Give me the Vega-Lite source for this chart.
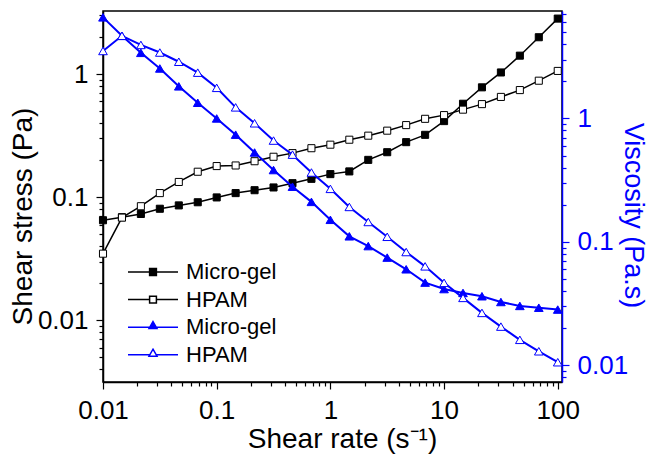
{
  "$schema": "https://vega.github.io/schema/vega-lite/v6.json",
  "width": 459,
  "height": 371,
  "autosize": "none",
  "padding": {"left": 103, "top": 11, "right": 86, "bottom": 72},
  "background": "white",
  "config": {
    "font": "Liberation Sans",
    "view": {"stroke": "black", "strokeWidth": 1.5},
    "axis": {
      "grid": false,
      "labelFont": "Liberation Sans",
      "labelFontSize": 26,
      "titleFont": "Liberation Sans",
      "titleFontSize": 28,
      "titleFontWeight": "normal",
      "labelPadding": 8,
      "domainWidth": 1.5,
      "tickWidth": 1.2,
      "labelOverlap": false,
      "labelFlush": false,
      "labelBound": false
    },
    "legend": {
      "orient": "none",
      "legendX": 39,
      "legendY": 250,
      "padding": 0,
      "labelFont": "Liberation Sans",
      "labelFontSize": 22,
      "labelColor": "black",
      "labelOffset": 22,
      "symbolSize": 64,
      "symbolStrokeWidth": 1.5,
      "rowPadding": 5.6
    }
  },
  "data": {
    "values": [
      {"rate": 0.01, "mg_s": 0.065, "hp_s": 0.0348, "mg_v": 6.59, "hp_v": 3.52},
      {"rate": 0.01468, "mg_s": 0.0688, "hp_s": 0.0683, "mg_v": 4.67, "hp_v": 4.67},
      {"rate": 0.02154, "mg_s": 0.0731, "hp_s": 0.0845, "mg_v": 3.40, "hp_v": 3.94},
      {"rate": 0.03162, "mg_s": 0.0806, "hp_s": 0.108, "mg_v": 2.54, "hp_v": 3.42},
      {"rate": 0.04642, "mg_s": 0.0858, "hp_s": 0.133, "mg_v": 1.82, "hp_v": 2.88},
      {"rate": 0.06813, "mg_s": 0.091, "hp_s": 0.161, "mg_v": 1.34, "hp_v": 2.35},
      {"rate": 0.1, "mg_s": 0.0996, "hp_s": 0.179, "mg_v": 1.0, "hp_v": 1.77},
      {"rate": 0.1468, "mg_s": 0.108, "hp_s": 0.181, "mg_v": 0.739, "hp_v": 1.23},
      {"rate": 0.2154, "mg_s": 0.114, "hp_s": 0.196, "mg_v": 0.53, "hp_v": 0.914},
      {"rate": 0.3162, "mg_s": 0.12, "hp_s": 0.213, "mg_v": 0.382, "hp_v": 0.662},
      {"rate": 0.4642, "mg_s": 0.13, "hp_s": 0.228, "mg_v": 0.28, "hp_v": 0.509},
      {"rate": 0.6813, "mg_s": 0.141, "hp_s": 0.25, "mg_v": 0.211, "hp_v": 0.365},
      {"rate": 1, "mg_s": 0.154, "hp_s": 0.267, "mg_v": 0.151, "hp_v": 0.269},
      {"rate": 1.468, "mg_s": 0.162, "hp_s": 0.293, "mg_v": 0.111, "hp_v": 0.192},
      {"rate": 2.154, "mg_s": 0.201, "hp_s": 0.316, "mg_v": 0.0925, "hp_v": 0.145},
      {"rate": 3.162, "mg_s": 0.232, "hp_s": 0.347, "mg_v": 0.0746, "hp_v": 0.11},
      {"rate": 4.642, "mg_s": 0.28, "hp_s": 0.385, "mg_v": 0.06, "hp_v": 0.0828},
      {"rate": 6.813, "mg_s": 0.321, "hp_s": 0.433, "mg_v": 0.0468, "hp_v": 0.0634},
      {"rate": 10, "mg_s": 0.415, "hp_s": 0.464, "mg_v": 0.0415, "hp_v": 0.0466},
      {"rate": 14.68, "mg_s": 0.574, "hp_s": 0.514, "mg_v": 0.0386, "hp_v": 0.0352},
      {"rate": 21.54, "mg_s": 0.78, "hp_s": 0.57, "mg_v": 0.0363, "hp_v": 0.0266},
      {"rate": 31.62, "mg_s": 1.03, "hp_s": 0.652, "mg_v": 0.0326, "hp_v": 0.0206},
      {"rate": 46.42, "mg_s": 1.41, "hp_s": 0.741, "mg_v": 0.0303, "hp_v": 0.0161},
      {"rate": 68.13, "mg_s": 1.99, "hp_s": 0.883, "mg_v": 0.0293, "hp_v": 0.013},
      {"rate": 100, "mg_s": 2.82, "hp_s": 1.06, "mg_v": 0.0283, "hp_v": 0.0106}
    ]
  },
  "transform": [{"fold": ["mg_s", "hp_s", "mg_v", "hp_v"], "as": ["series", "value"]}],
  "encoding": {
    "x": {
      "field": "rate",
      "type": "quantitative",
      "scale": {"type": "log", "domain": [0.01, 109]},
      "axis": {
        "values": [0.01,0.02,0.03,0.04,0.05,0.06,0.07,0.08,0.09,0.1,0.2,0.3,0.4,0.5,0.6,0.7,0.8,0.9,1,2,3,4,5,6,7,8,9,10,20,30,40,50,60,70,80,90,100],
        "format": "~g",
        "labelExpr": "abs(log(datum.value)/LN10 - round(log(datum.value)/LN10)) < 0.001 ? datum.label : ''",
        "tickSize": {"condition": {"test": "abs(log(datum.value)/LN10 - round(log(datum.value)/LN10)) < 0.001", "value": 7}, "value": 4},
        "title": "Shear rate (s⁻¹)",
        "titleX": 239,
        "titleY": 65,
        "titleBaseline": "alphabetic",
        "domainColor": "black",
        "tickColor": "black",
        "labelColor": "black",
        "titleColor": "black"
      }
    }
  },
  "layer": [
    {
      "transform": [{"filter": "datum.series == 'mg_s' || datum.series == 'hp_s'"}],
      "encoding": {
        "y": {
          "field": "value",
          "type": "quantitative",
          "scale": {"type": "log", "domain": [0.00316, 3.25]},
          "axis": {
            "orient": "left",
            "values": [0.004,0.005,0.006,0.007,0.008,0.009,0.01,0.02,0.03,0.04,0.05,0.06,0.07,0.08,0.09,0.1,0.2,0.3,0.4,0.5,0.6,0.7,0.8,0.9,1,2,3],
            "format": "~g",
            "labelExpr": "abs(log(datum.value)/LN10 - round(log(datum.value)/LN10)) < 0.001 ? datum.label : ''",
            "tickSize": {"condition": {"test": "abs(log(datum.value)/LN10 - round(log(datum.value)/LN10)) < 0.001", "value": 7}, "value": 4},
            "title": "Shear stress (Pa)",
            "titleX": -72,
            "titleY": 205,
            "titleBaseline": "alphabetic",
            "domainColor": "black",
            "tickColor": "black",
            "labelColor": "black",
            "titleColor": "black"
          }
        }
      },
      "layer": [
        {
          "mark": {"type": "line", "color": "black", "strokeWidth": 1.5},
          "encoding": {"detail": {"field": "series"}}
        },
        {
          "mark": {"type": "point", "shape": "square", "size": 50, "strokeWidth": 1, "opacity": 1},
          "encoding": {
            "fill": {
              "field": "series", "type": "nominal",
              "scale": {"domain": ["mg_s", "hp_s", "mg_v", "hp_v"], "range": ["black", "white", "#0000ff", "white"]},
              "legend": {"title": null, "labelExpr": "(datum.value == 'mg_s' || datum.value == 'mg_v') ? 'Micro-gel' : 'HPAM'"}
            },
            "stroke": {
              "field": "series", "type": "nominal",
              "scale": {"domain": ["mg_s", "hp_s", "mg_v", "hp_v"], "range": ["black", "black", "#0000ff", "#0000ff"]},
              "legend": {"title": null, "labelExpr": "(datum.value == 'mg_s' || datum.value == 'mg_v') ? 'Micro-gel' : 'HPAM'"}
            }
          }
        },
        {
          "transform": [{"filter": "false"}],
          "mark": {"type": "point", "size": 64, "strokeWidth": 1.5, "opacity": 1},
          "encoding": {
            "shape": {
              "field": "series", "type": "nominal",
              "scale": {"domain": ["mg_s", "hp_s", "mg_v", "hp_v"], "range": [
                "M-6.25,0H-0.85M0.85,0H6.25M-0.85,-0.85H0.85V0.85H-0.85Z",
                "M-6.25,0H-0.85M0.85,0H6.25M-0.85,-0.85H0.85V0.85H-0.85Z",
                "M-6.25,0H-0.8M0.8,0H6.25M0,-1.4L1,0.35H-1Z",
                "M-6.25,0H-0.8M0.8,0H6.25M0,-1.4L1,0.35H-1Z"]},
              "legend": {"title": null, "labelExpr": "(datum.value == 'mg_s' || datum.value == 'mg_v') ? 'Micro-gel' : 'HPAM'"}
            },
            "fill": {
              "field": "series", "type": "nominal",
              "scale": {"domain": ["mg_s", "hp_s", "mg_v", "hp_v"], "range": ["black", "white", "#0000ff", "white"]},
              "legend": {"title": null, "labelExpr": "(datum.value == 'mg_s' || datum.value == 'mg_v') ? 'Micro-gel' : 'HPAM'"}
            },
            "stroke": {
              "field": "series", "type": "nominal",
              "scale": {"domain": ["mg_s", "hp_s", "mg_v", "hp_v"], "range": ["black", "black", "#0000ff", "#0000ff"]},
              "legend": {"title": null, "labelExpr": "(datum.value == 'mg_s' || datum.value == 'mg_v') ? 'Micro-gel' : 'HPAM'"}
            }
          }
        }
      ]
    },
    {
      "transform": [{"filter": "datum.series == 'mg_v' || datum.series == 'hp_v'"}],
      "encoding": {
        "y": {
          "field": "value",
          "type": "quantitative",
          "scale": {"type": "log", "domain": [0.00733, 7.42]},
          "axis": {
            "orient": "right",
            "values": [0.008,0.009,0.01,0.02,0.03,0.04,0.05,0.06,0.07,0.08,0.09,0.1,0.2,0.3,0.4,0.5,0.6,0.7,0.8,0.9,1,2,3,4,5,6,7],
            "format": "~g",
            "labelExpr": "abs(log(datum.value)/LN10 - round(log(datum.value)/LN10)) < 0.001 ? datum.label : ''",
            "tickSize": {"condition": {"test": "abs(log(datum.value)/LN10 - round(log(datum.value)/LN10)) < 0.001", "value": 7}, "value": 4},
            "title": "Viscosity (Pa.s)",
            "titleAngle": 90,
            "titleFontSize": 27,
            "titleX": 62,
            "titleY": 204,
            "titleBaseline": "alphabetic",
            "domainColor": "#0000ff",
            "tickColor": "#0000ff",
            "labelColor": "#0000ff",
            "titleColor": "#0000ff"
          }
        }
      },
      "layer": [
        {
          "mark": {"type": "line", "color": "#0000ff", "strokeWidth": 2},
          "encoding": {"detail": {"field": "series"}}
        },
        {
          "mark": {"type": "point", "shape": "triangle-up", "size": 75, "strokeWidth": 1, "opacity": 1},
          "encoding": {
            "fill": {
              "field": "series", "type": "nominal",
              "scale": {"domain": ["mg_s", "hp_s", "mg_v", "hp_v"], "range": ["black", "white", "#0000ff", "white"]},
              "legend": {"title": null, "labelExpr": "(datum.value == 'mg_s' || datum.value == 'mg_v') ? 'Micro-gel' : 'HPAM'"}
            },
            "stroke": {
              "field": "series", "type": "nominal",
              "scale": {"domain": ["mg_s", "hp_s", "mg_v", "hp_v"], "range": ["black", "black", "#0000ff", "#0000ff"]},
              "legend": {"title": null, "labelExpr": "(datum.value == 'mg_s' || datum.value == 'mg_v') ? 'Micro-gel' : 'HPAM'"}
            }
          }
        }
      ]
    }
  ],
  "resolve": {"scale": {"y": "independent"}}
}
